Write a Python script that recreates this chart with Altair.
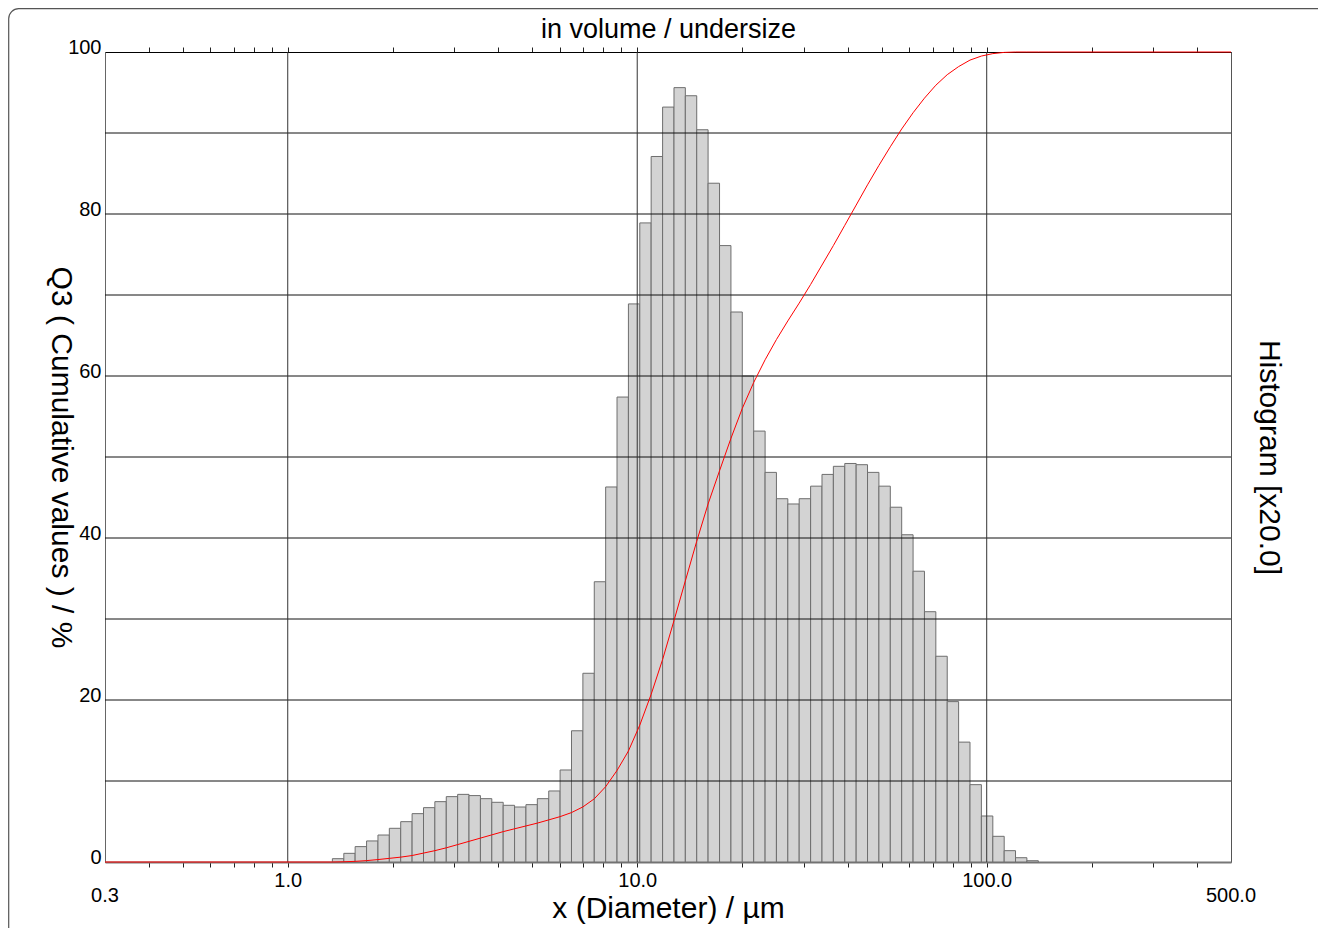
import altair as alt
import pandas as pd

FONT = "Liberation Sans"

# bin edges (µm) of the histogram classes
edges = [1.342, 1.447, 1.559, 1.681, 1.812, 1.953, 2.105, 2.269, 2.446, 2.636,
         2.842, 3.063, 3.301, 3.559, 3.836, 4.135, 4.457, 4.804, 5.178, 5.582,
         6.016, 6.485, 6.990, 7.535, 8.122, 8.754, 9.436, 10.17, 10.96, 11.82,
         12.74, 13.73, 14.80, 15.95, 17.20, 18.54, 19.98, 21.54, 23.22, 25.02,
         26.97, 29.07, 31.34, 33.78, 36.41, 39.25, 42.31, 45.60, 49.15, 52.98,
         57.11, 61.56, 66.35, 71.52, 77.09, 83.10, 89.57, 96.55, 104.1, 112.2,
         120.9, 130.3, 140.5]

# histogram heights (display scale, x20)
hist = [0.41, 1.07, 1.9, 2.6, 3.33, 4.16, 4.98, 5.97, 6.71, 7.45,
        8.07, 8.35, 8.2, 7.82, 7.37, 7.0, 6.79, 7.08, 7.82, 8.77,
        11.36, 16.2, 23.3, 34.6, 46.3, 57.4, 68.9, 78.9, 87.1, 93.2,
        95.6, 94.6, 90.4, 83.8, 76.1, 67.9, 60.0, 53.2, 48.1, 44.85,
        44.2, 44.85, 46.4, 47.85, 48.85, 49.2, 49.05, 48.1, 46.4, 43.8,
        40.4, 35.9, 30.9, 25.4, 19.8, 14.8, 9.55, 5.68, 3.17, 1.4,
        0.53, 0.16]

# cumulative undersize Q3 (%) at the edges
cum = [0.0, 0.03, 0.08, 0.17, 0.3, 0.45, 0.6, 0.8, 1.1, 1.4,
       1.75, 2.15, 2.55, 2.95, 3.35, 3.75, 4.1, 4.45, 4.8, 5.2,
       5.6, 6.1, 6.8, 7.8, 9.3, 11.3, 13.7, 16.9, 20.7, 25.0,
       29.8, 34.7, 39.6, 44.2, 48.3, 52.3, 56.0, 59.2, 62.0, 64.5,
       66.8, 69.0, 71.3, 73.7, 76.1, 78.6, 81.1, 83.6, 86.0, 88.3,
       90.5, 92.5, 94.3, 95.9, 97.2, 98.2, 99.0, 99.5, 99.8, 99.95,
       100.0, 100.0, 100.0]

x_min, x_max = 0.3, 500.0
h_grid = [10, 20, 30, 40, 50, 60, 70, 80, 90]
v_grid = [1, 10, 100]
y_labels = [0, 20, 40, 60, 80, 100]
x_ticks = [0.4, 0.5, 0.6, 0.7, 0.8, 0.9, 1, 2, 3, 4, 5, 6, 7, 8, 9, 10,
           20, 30, 40, 50, 60, 70, 80, 90, 100, 200, 300, 400]
end_labels = [0.3, 500.0]
end_texts = ["0.3", "500.0"]

W, H = 1126, 810

bins = pd.DataFrame({"lo": edges[:-1], "hi": edges[1:], "h": hist})
line_df = pd.DataFrame({"x": [x_min] + edges + [x_max], "q": [0.0] + cum + [100.0]})

xs = alt.Scale(type="log", domain=[x_min, x_max], nice=False)
ys = alt.Scale(domain=[0, 100], nice=False, zero=True)

bars = alt.Chart(bins).mark_rect(fill="#d3d3d3", stroke="#6e6e6e", strokeWidth=1).encode(
    x=alt.X("lo:Q", scale=xs, axis=alt.Axis(
        orient="bottom", values=x_ticks, title="x (Diameter) / µm",
        labelExpr="(datum.value == 1 || datum.value == 10 || datum.value == 100) ? format(datum.value, '.1f') : ''",
        labelFont=FONT, labelFontSize=20, labelColor="#000", labelPadding=3,
        tickSize=5, tickColor="#222", domainColor="#777", domainWidth=2, grid=False,
        titleFont=FONT, titleFontSize=30, titleFontWeight="normal", titleColor="#000",
        titleX=W / 2, titleY=55, titleAlign="center", titleBaseline="alphabetic")),
    x2="hi:Q",
    y=alt.Y("h:Q", scale=ys, axis=alt.Axis(
        orient="right", labels=False, ticks=False, domain=False, grid=False,
        title="Histogram [x20.0]", titleFont=FONT, titleFontSize=30, titleFontWeight="normal",
        titleColor="#000", titleAngle=90, titleX=37, titleY=H / 2,
        titleAlign="center", titleBaseline="middle")),
    y2=alt.datum(0),
)

hg = alt.Chart(pd.DataFrame({"v": h_grid})).mark_rule(color="#111", strokeWidth=1).encode(
    y=alt.Y("v:Q", scale=ys, axis=None))
vg = alt.Chart(pd.DataFrame({"v": v_grid})).mark_rule(color="#333", strokeWidth=1).encode(
    x=alt.X("v:Q", scale=xs, axis=None))

line = alt.Chart(line_df).mark_line(color="#ff0000", strokeWidth=1).encode(
    x=alt.X("x:Q", scale=xs, axis=alt.Axis(
        orient="top", values=x_ticks, labels=False, tickSize=5, tickColor="#222",
        domainColor="#000", grid=False, title="in volume / undersize",
        titleFont=FONT, titleFontSize=27, titleFontWeight="normal", titleColor="#000",
        titleX=W / 2, titleY=-15, titleAlign="center", titleBaseline="alphabetic")),
    y=alt.Y("q:Q", scale=ys, axis=alt.Axis(
        orient="left", values=y_labels, ticks=False, grid=False,
        labelFont=FONT, labelFontSize=20, labelColor="#000", labelPadding=4,
        labelBaseline="alphabetic", labelOffset=1,
        domainColor="#666", domainWidth=1,
        title="Q3 ( Cumulative values ) / %", titleFont=FONT, titleFontSize=30,
        titleFontWeight="normal", titleColor="#000", titleAngle=90,
        titleX=-45, titleY=H / 2, titleAlign="center", titleBaseline="middle")),
)

ends = alt.Chart(pd.DataFrame({"v": end_labels, "t": end_texts})).mark_text(
    font=FONT, fontSize=20, color="#000", align="center", baseline="alphabetic", clip=False
).encode(
    x=alt.X("v:Q", scale=xs, axis=None),
    y=alt.value(850),
    text="t:N",
)

frame = alt.Chart(pd.DataFrame({"a": [0]})).mark_rect(
    filled=False, stroke="#555", strokeWidth=1.2, cornerRadius=10, clip=False
).encode(
    x=alt.value(-96.3), x2=alt.value(1300), y=alt.value(-43.3), y2=alt.value(950)
)

chart = alt.layer(bars, hg, vg, line, ends, frame).resolve_scale(
    x="independent", y="independent"
).properties(
    width=W, height=H,
    autosize=alt.AutoSizeParams(type="none"),
    padding={"left": 97, "top": 44, "right": 87, "bottom": 66},
).configure_view(stroke="#555", strokeWidth=1)

chart.save("out.html", embed_options={"renderer": "svg", "actions": False})
